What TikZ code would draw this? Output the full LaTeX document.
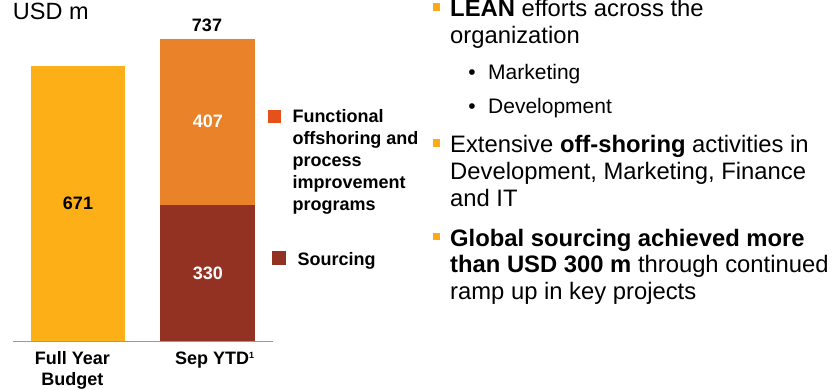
\documentclass[tikz,border=0pt]{standalone}
\usepackage{fontspec}
\setmainfont{Liberation Sans}
\definecolor{budgetc}{HTML}{FCAF17}
\definecolor{offc}{HTML}{EA8229}
\definecolor{sourcec}{HTML}{933123}
\definecolor{legoffc}{HTML}{E4511B}
\definecolor{markc}{HTML}{FBAA19}
\begin{document}
\begin{tikzpicture}[x=1pt,y=-1pt,
  val/.style={font=\bfseries\fontsize{18}{21}\selectfont, inner sep=0},
  leg/.style={font=\bfseries\fontsize{18}{22}\selectfont, inner sep=0, anchor=base west, align=left},
  main/.style={font=\fontsize{23.8}{26.7}\selectfont, inner sep=0, anchor=base west, align=left},
  sub/.style={font=\fontsize{21}{25}\selectfont, inner sep=0, anchor=base west},
  sq/.style={inner sep=0, minimum size=#1}]
\useasboundingbox (0,0) rectangle (834,390);
\fill[budgetc] (30.7,65.7) rectangle (125.3,341);
\fill[offc] (160.3,38.7) rectangle (255.3,204.7);
\fill[sourcec] (160.3,204.7) rectangle (255.3,341);
\draw[gray!80, line width=0.8pt] (13.3,341) -- (273.3,341);
\node[font=\fontsize{23.5}{26}\selectfont, inner sep=0, anchor=base west] (unit) at (12.7,20) {USD m};
\node[val] (tot) at (207,25) {737};
\node[val] (bud) at (78,203.4) {671};
\node[val, text=white] (off) at (207.8,121.7) {407};
\node[val, text=white] (src) at (207.8,272.9) {330};
\node[val, align=center, anchor=base] (xbud) at (72.3,385) {Full Year\\Budget};
\node[val, anchor=base west] (xsep) at (175,364.3) {Sep YTD\textsuperscript{\fontsize{9}{9}\selectfont 1}};
\node[sq=13pt, fill=legoffc] (lg1) at (274.5,116.5) {};
\node[leg] (lt1) at (292.3,210.7) {Functional\\offshoring and\\process\\improvement\\programs};
\node[sq=14pt, fill=sourcec] (lg2) at (279,258) {};
\node[leg] (lt2) at (297.3,265.7) {Sourcing};
\node[sq=7.5pt, fill=markc] (m1) at (436.5,7) {};
\node[main] (p1) at (450,43.4) {\textbf{LEAN} efforts across the\\organization};
\node[sub, anchor=base] (d1) at (472,80) {\textbullet};
\node[sub] (s1) at (488,80) {Marketing};
\node[sub, anchor=base] (d2) at (472,114) {\textbullet};
\node[sub] (s2) at (488,114) {Development};
\node[sq=7.5pt, fill=markc] (m2) at (436.5,143) {};
\node[main] (p2) at (450,206) {Extensive \textbf{off-shoring} activities in\\Development, Marketing, Finance\\and IT};
\node[sq=7.5pt, fill=markc] (m3) at (436.5,236.5) {};
\node[main] (p3) at (450,299.4) {\textbf{Global sourcing achieved more}\\\textbf{than USD 300 m} through continued\\ramp up in key projects};
\end{tikzpicture}
\end{document}
